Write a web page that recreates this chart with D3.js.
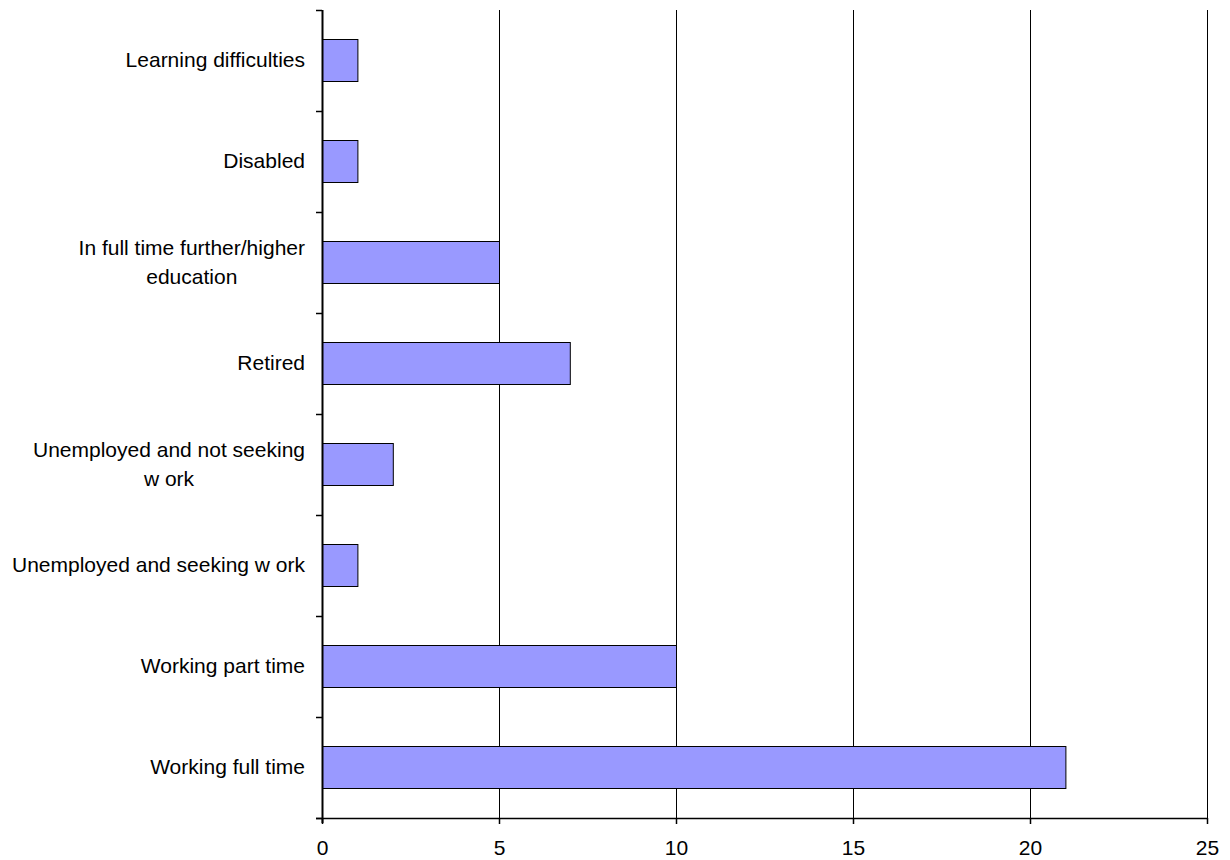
<!DOCTYPE html>
<html>
<head>
<meta charset="utf-8">
<script src="https://cdn.jsdelivr.net/npm/d3@7/dist/d3.min.js"></script>
<style>
html,body{margin:0;padding:0;background:#fff;}
svg text{font-family:"Liberation Sans",Arial,sans-serif;fill:#000;}
</style>
</head>
<body>
<svg id="chart" width="1230" height="860"></svg>
<script>
const categories = [
  "Learning difficulties",
  "Disabled",
  "In full time further/higher\neducation",
  "Retired",
  "Unemployed and not seeking\nw ork",
  "Unemployed and seeking w ork",
  "Working part time",
  "Working full time"
];
const values = [1, 1, 5, 7, 2, 1, 10, 21];
const xTicks = [0, 5, 10, 15, 20, 25];

const svg = d3.select("#chart");
const pLeft = 322, pRight = 1207, pTop = 10, pBottom = 818;
const fontSize = 21;

const x = d3.scaleLinear().domain([0, 25]).range([pLeft, pRight]);
const y = d3.scaleBand().domain(categories).range([pTop, pBottom]).paddingInner(0.584).paddingOuter(0.292);
const yb = d3.scaleBand().domain(categories).range([pTop, pBottom]).padding(0);

// vertical gridlines
svg.append("g").selectAll("line").data(xTicks.filter(d => d > 0)).join("line")
  .attr("x1", d => x(d) + 0.5).attr("x2", d => x(d) + 0.5)
  .attr("y1", pTop).attr("y2", pBottom)
  .attr("stroke", "#000").attr("stroke-width", 1);

// bars
svg.append("g").selectAll("rect").data(values).join("rect")
  .attr("x", x(0) + 0.5)
  .attr("y", (d, i) => Math.round(y(categories[i])) + 0.5)
  .attr("width", d => x(d) - x(0))
  .attr("height", Math.round(y.bandwidth()))
  .attr("fill", "#9999FF")
  .attr("stroke", "#000").attr("stroke-width", 1);

// y axis line and ticks
const yTickPos = categories.map(c => yb(c)).concat([pBottom]);
svg.append("line").attr("x1", pLeft + 0.5).attr("x2", pLeft + 0.5).attr("y1", pTop).attr("y2", pBottom + 5)
  .attr("stroke", "#000").attr("stroke-width", 2);
svg.append("g").selectAll("line").data(yTickPos).join("line")
  .attr("x1", pLeft - 6).attr("x2", pLeft)
  .attr("y1", d => Math.round(d) + 0.5).attr("y2", d => Math.round(d) + 0.5)
  .attr("stroke", "#000").attr("stroke-width", 1.5);

// x axis
svg.append("line").attr("x1", pLeft - 6).attr("x2", pRight + 1).attr("y1", pBottom + 0.5).attr("y2", pBottom + 0.5)
  .attr("stroke", "#000").attr("stroke-width", 1.5);
svg.append("g").selectAll("line").data(xTicks).join("line")
  .attr("x1", d => x(d) + 0.5).attr("x2", d => x(d) + 0.5)
  .attr("y1", pBottom).attr("y2", pBottom + 6)
  .attr("stroke", "#000").attr("stroke-width", 1.5);
svg.append("g").selectAll("text").data(xTicks).join("text")
  .attr("x", d => x(d) + 0.5).attr("y", pBottom + 37)
  .attr("text-anchor", "middle").attr("font-size", fontSize)
  .text(d => d);

// category labels
const labelRight = 305;
const lineH = 29;
categories.forEach(c => {
  const lines = c.split("\n");
  const cy = yb(c) + yb.bandwidth() / 2;
  const g = svg.append("g");
  const texts = lines.map((ln, i) => g.append("text")
    .attr("font-size", fontSize)
    .attr("y", cy + (i - (lines.length - 1) / 2) * lineH + 6.5)
    .text(ln));
  const widths = texts.map(t => t.node().getComputedTextLength());
  const maxW = Math.max(...widths);
  const center = labelRight - maxW / 2;
  texts.forEach(t => t.attr("x", center).attr("text-anchor", "middle"));
});
</script>
</body>
</html>
